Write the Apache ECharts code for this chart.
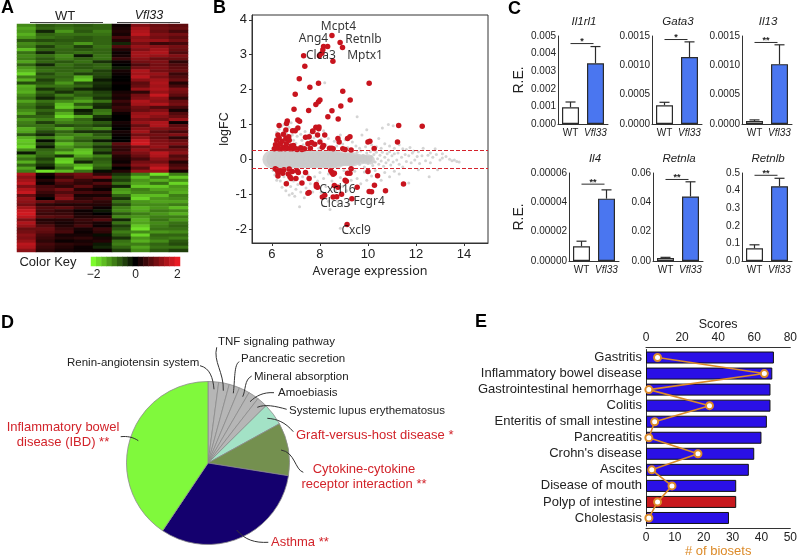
<!DOCTYPE html>
<html>
<head>
<meta charset="utf-8">
<title>Vfl33 figure</title>
<script src="https://cdn.jsdelivr.net/npm/echarts@6/dist/echarts.min.js"></script>
<style>
  html, body { margin: 0; padding: 0; background: #fff; }
  #chart { width: 800px; height: 559px; }
</style>
</head>
<body>
<div id="chart"></div>
<script>
// Panel A: heat map, one row per gene, 5 WT columns then 4 Vfl33 columns
const heatRows = [
  [-1.1,-.7,-.8,-.7,-.8,.1,1.1,.9,.8],
  [-1.3,-.8,-.9,-.8,-.8,.2,1.4,1.0,.9],
  [-1.2,-.3,-1.2,-.7,-1.0,.3,1.5,.9,.6],
  [-1.4,-.8,-.9,-.9,-.9,.2,1.6,1.1,1.0],
  [-1.2,-.9,-.8,-.7,-.8,.6,1.2,1.0,.8],
  [-.7,-.6,-.7,-.7,-.8,.3,1.3,1.3,1.0],
  [-1.1,-.9,-.8,-1.2,-.8,-.3,1.0,.5,.6],
  [-1.0,-.5,-.9,-.5,-.9,.7,1.3,1.2,1.0],
  [-1.5,-.8,-.8,-.7,-.8,.3,1.1,1.4,.9],
  [-.9,-.3,-.8,-.9,-.8,.1,1.4,1.5,.7],
  [-1.1,-.9,-1.1,-.2,-.9,.2,1.4,1.3,1.1],
  [-1.0,-.7,-1.0,-.8,-.9,.5,1.2,.9,.9],
  [-1.3,-.8,-.7,-.9,-.4,.1,1.0,1.1,.4],
  [-.8,-.3,-.9,-.7,-.8,.0,.7,1.0,.7],
  [-1.2,-.8,-.8,-.7,-.8,-.2,1.0,1.1,.8],
  [-1.4,-.9,-.8,-.9,-.5,.2,1.5,1.0,.9],
  [-1.7,-.6,-.9,-.5,-.6,.1,1.4,1.3,.5],
  [-1.0,-.8,-.8,-1.4,-.5,.0,1.6,1.1,.7],
  [-1.4,-.5,-.9,-1.6,-.2,.0,1.2,1.4,.9],
  [-.6,-.7,-1.2,-.6,-.4,.1,.8,1.5,.3],
  [-1.4,-.9,-.9,-.8,-.3,.0,.9,1.4,.6],
  [-1.3,-.4,-.7,-.3,-.2,.0,1.3,1.5,1.1],
  [-1.4,-.8,-.4,-.8,-.5,.2,.4,1.3,1.0],
  [-1.1,-.6,-1.0,-.7,-.6,.3,1.0,1.7,.8],
  [-.9,-.3,-.7,-1.0,-.4,.2,1.1,1.3,.4],
  [-1.3,-.9,-1.1,-1.3,-.9,.5,1.5,1.2,.9],
  [-1.0,-.7,-1.5,-.7,-.4,.3,1.4,1.5,1.0],
  [-.9,-.5,-1.6,-1.2,-.3,.5,1.0,.7,.6],
  [-1.1,-.8,-1.0,-.2,-.9,.4,.9,1.1,.2],
  [-1.3,-.6,-1.4,-.4,-1.0,.1,1.3,1.4,.7],
  [-.8,-.8,-1.7,-1.3,-.4,.0,1.4,1.2,.9],
  [-1.2,-1.0,-1.2,-.8,-.2,.0,1.1,1.0,1.3],
  [-1.0,-.5,-1.0,-.9,-.7,.2,1.3,1.5,.1],
  [-.9,-.9,-.6,-.7,-.5,.1,.9,1.5,.8],
  [-1.4,-.9,-1.3,-.9,-1.1,.0,1.2,1.1,1.0],
  [-1.3,-.6,-.8,-.4,-.4,.2,1.4,.8,.6],
  [-.7,-.3,-1.0,-1.1,-.7,.1,1.0,1.0,1.1],
  [-1.4,-1.0,-1.3,-.9,-.9,.0,1.3,.9,.4],
  [-1.6,-.1,-1.0,-.7,-.2,.0,1.7,1.1,.9],
  [-1.5,-.6,-1.5,-1.1,-.8,.8,1.8,1.2,1.1],
  [-1.7,-.2,-1.2,-.9,-.4,.5,1.0,1.3,.6],
  [-1.1,-.8,-1.0,-1.5,-.7,.4,1.3,1.0,1.0],
  [-.2,-.9,-1.5,-1.6,-.3,.6,1.1,1.6,1.2],
  [-1.2,-.8,-.4,-1.3,-1.0,.3,.9,1.5,.7],
  [-.9,-.5,-1.6,-.9,-.7,.2,.6,1.2,.9],
  [-1.4,-.7,-1.7,-.3,-.8,.1,1.0,1.0,.3],
  [-.8,-.4,-1.2,-1.4,-.9,.4,1.2,1.4,.6],
  [-1.3,-.1,-.9,-1.7,-.7,.0,.8,1.7,.8],
  [-1.0,-1.8,-1.5,-.9,-.1,.3,1.3,1.3,.2],
  [1.5,.2,.8,1.0,.4,-.4,-1.0,-1.8,-1.0],
  [1.2,.0,.5,.9,1.1,-.7,-1.5,-1.0,-1.6],
  [1.4,.3,.9,.5,.2,-.5,-1.2,-1.4,-1.1],
  [1.6,.1,.6,.4,.7,-.9,-1.3,-.9,-1.7],
  [1.1,.6,.4,.8,.3,-.3,-1.6,-1.6,-1.2],
  [1.5,.7,1.0,.3,.1,-1.2,-1.0,-1.3,-1.3],
  [1.7,.5,.7,.6,.5,-1.3,-1.1,-1.1,-1.4],
  [.9,.3,1.0,.2,.2,-.8,-1.5,-1.5,-1.0],
  [1.3,.0,1.2,.4,.6,-.4,-1.7,-1.2,-1.1],
  [1.2,.9,.6,.6,.4,-.9,-1.2,-1.3,-1.3],
  [1.0,.4,.3,.3,.3,-.6,-1.1,-1.1,-1.0],
  [1.4,.7,.8,.5,.1,-1.0,-1.4,-1.2,-1.5],
  [1.7,.6,.4,.1,-.2,-1.1,-1.3,-1.0,-1.1],
  [1.8,.5,.5,.2,.0,-.7,-1.0,-1.2,-1.4],
  [1.6,.8,.7,.3,.3,-1.1,-1.2,-1.0,-1.0],
  [1.1,.3,.3,.5,.7,-.3,-1.4,-.9,-1.2],
  [1.5,.4,.2,.4,.2,-.9,-1.3,-1.1,-.9],
  [1.3,.7,.3,.6,.1,-.5,-1.6,-1.0,-.8],
  [.9,.9,.5,.2,.5,-.7,-1.8,-.9,-.9],
  [1.0,.8,.6,.1,.4,-1.0,-1.1,-1.2,-1.1],
  [1.2,.6,.2,.2,-.1,-.8,-1.7,-.8,-.8],
  [1.1,.5,.3,.4,.2,-.4,-1.2,-.9,-1.0],
  [1.3,.4,.1,.2,.3,-.9,-1.4,-1.1,-.7],
  [1.6,.6,.4,.3,-.2,-1.0,-1.0,-.8,-.6],
  [1.5,.5,.3,.1,-.3,-.8,-1.3,-.9,-.9],
  [1.2,.4,.2,.1,.1,-.5,-1.1,-.7,-.5]
];
const heatColumns = ['WT1', 'WT2', 'WT3', 'WT4', 'WT5', 'Vfl1', 'Vfl2', 'Vfl3', 'Vfl4'];
const colorKeySteps = [-2, -1.75, -1.5, -1.25, -1, -0.75, -0.5, -0.25, 0, 0.25, 0.5, 0.75, 1, 1.25, 1.5, 1.75, 2];

// Panel B: MA plot
const grayBandWide = [[5.98,0],[6.15,0],[6.3,0],[6.5,0],[6.7,0],[6.9,0],[7.1,0],[7.3,0],[7.5,0],[7.7,0],[7.9,0],[8.1,0],[8.3,0],[8.5,0],[8.7,0]];
const grayBandMid = [[8.8,0],[8.95,0],[9.1,0],[9.25,0],[9.4,0]];
const grayBandThin = [[9.5,0],[9.6,0.03],[9.7,-0.02],[9.8,0.02],[9.9,-0.01],[10.0,0.02],[10.1,-0.02]];
const grayPoints = [
  [6.05,.32],[6.1,.45],[6.15,.6],[6.2,.78],[6.25,.48],[6.3,.86],[6.35,.62],[6.4,.95],[6.42,.38],[6.5,.82],[6.5,1.0],[6.55,.5],[6.62,.72],[6.7,.92],[6.75,.42],[6.8,1.05],[6.85,.7],[6.9,.55],[6.95,.88],[7.0,.46],[7.05,.66],[7.12,.35],[7.2,.72],[7.25,.55],[7.3,.42],[7.38,.8],[7.45,.32],[7.5,.58],[7.6,.74],[7.68,.38],[7.75,.62],[7.85,.45],[7.95,.32],[8.05,.58],[8.2,2.2],[8.15,.82],[8.25,.42],[8.35,.6],[8.45,.36],[8.6,.52],[8.7,.38],[8.85,.7],[8.95,.44],[9.05,.56],[9.15,.34],[9.35,.5],[9.5,.38],[9.55,1.22],[9.65,.32],[9.75,.7],[9.9,.36],[9.95,.85],[10.15,.42],[10.35,.36],[10.45,.6],[10.55,.32],[10.6,.9],[10.7,.45],[10.85,1.0],[10.9,.38],[11.05,.96],[11.1,.32],[11.3,.42],[11.45,.3],[11.6,.28],[11.75,.34],[11.9,.24],[12.1,.22],[12.3,.32],[12.6,.18],[12.8,.3],[13.1,.16],
  [9.55,.2],[9.65,-.15],[9.7,.24],[9.8,.12],[9.85,-.22],[9.95,.18],[10.0,-.12],[10.1,.22],[10.15,.08],[10.2,-.18],[10.25,.14],[10.3,-.08],[10.35,.2],[10.4,.02],[10.45,-.14],[10.5,.12],[10.55,-.05],[10.6,.2],[10.65,-.2],[10.7,.06],[10.75,-.1],[10.8,.16],[10.85,-.02],[10.9,.22],[10.95,-.16],[11.0,.1],[11.05,-.08],[11.1,.16],[11.2,-.02],[11.25,.18],[11.3,-.14],[11.4,.06],[11.45,-.22],[11.55,.14],[11.6,-.06],[11.7,.1],[11.8,-.1],[11.85,.18],[11.95,-.02],[12.05,.08],[12.15,-.12],[12.25,.1],[12.4,-.04],[12.5,.12],[12.6,-.1],[12.7,.06],[12.85,.14],[13.0,-.02],[13.1,.04],[13.25,.08],[13.4,.0],[13.5,-.04],[13.6,-.02],[13.7,-.06],[13.8,-.08],
  [6.05,-.32],[6.12,-.45],[6.2,-.6],[6.28,-.4],[6.35,-.62],[6.42,-.8],[6.5,-.5],[6.58,-.9],[6.65,-.64],[6.72,-1.02],[6.78,-.78],[6.85,-.98],[6.9,-.62],[6.95,-1.06],[7.0,-.86],[7.08,-.72],[7.15,-1.36],[7.2,-.94],[7.28,-.5],[7.35,-1.1],[7.42,-.82],[7.5,-.44],[7.6,-.7],[7.7,-.94],[7.78,-.5],[7.9,-.62],[8.0,-.38],[8.05,-.95],[8.15,-.55],[8.25,-.78],[8.35,-.42],[8.35,-1.2],[8.42,-1.44],[8.5,-.62],[8.65,-.9],[8.75,-1.22],[8.85,-.52],[8.95,-.78],[8.85,-1.98],[9.0,-.32],[9.12,-.9],[9.2,-1.3],[9.3,-.6],[9.45,-.34],[9.55,-.55],[9.7,-.7],[9.85,-.36],[9.95,-.6],[10.15,-.48],[10.3,-.32],[10.55,-.6],[10.7,-.38],[10.9,-.5],[11.1,-.34],[11.3,-.42],[11.7,-.68],[12.1,-.3],[12.55,-.5],[12.9,-.3]
];
const redPoints = [
  [8.5,3.55],[8.84,3.35],[8.15,3.24],[8.32,3.24],[8.12,3.14],[8.94,3.21],[8.08,3.04],[7.98,2.97],[7.32,2.97],[8.54,2.81],[7.37,2.67],[7.14,2.31],[7.94,2.18],[10.05,2.18],[7.58,2.07],[8.95,1.95],[6.97,1.87],[9.26,1.7],[8.0,1.7],[7.94,1.65],[7.83,1.57],[8.87,1.53],[6.92,1.44],[7.53,1.4],[8.5,1.39],[8.33,1.22],[8.76,1.16],[6.64,1.1],[6.61,1.03],[7.08,1.13],[7.15,1.09],[6.3,.97],[7.96,.93],[7.83,.92],[11.28,.97],[12.26,.95],[7.08,.9],[6.58,.84],[6.86,.82],[6.97,.82],[7.7,.81],
  [6.1,.3],[6.15,.42],[6.2,.55],[6.22,.35],[6.25,.7],[6.3,.3],[6.3,.62],[6.35,.45],[6.4,.3],[6.42,.52],[6.48,.72],[6.5,.35],[6.55,.3],[6.58,.6],[6.6,.45],[6.65,.32],[6.7,.65],[6.72,.55],[6.75,.3],[6.8,.38],[6.85,.3],[6.9,.4],[7.0,.3],[7.05,.28],[7.2,.33],[7.25,.28],[7.35,.3],[7.4,.63],[7.5,.45],[7.55,.65],[7.6,.32],[7.65,.48],[7.7,.8],[7.78,.43],[7.9,.7],[7.95,.88],[8.0,.5],[8.1,.35],[8.2,.7],[8.15,.4],[8.4,.32],[8.5,.32],[8.55,.3],[8.75,.6],[8.8,.5],[8.95,.3],[9.05,.28],[9.15,.6],[9.25,.65],[9.3,.27],[10.0,.5],[10.08,.52],[10.26,.31],[11.23,.5],
  [6.14,-.27],[6.2,-.3],[6.25,-.38],[6.25,-.48],[6.35,-.33],[6.45,-.4],[6.5,-.3],[6.6,-.7],[6.68,-.42],[6.72,-.28],[6.75,-.5],[6.8,-.55],[6.85,-.35],[7.0,-.55],[7.05,-.33],[7.1,-.38],[7.25,-.68],[7.4,-.38],[7.55,-.55],[7.55,-.95],[7.5,-.97],[7.85,-.72],[7.9,-.8],[7.85,-.78],[8.1,-1.08],[8.2,-1.03],[8.45,-.33],[8.5,-.38],[8.55,-.43],[8.6,-.4],[8.6,-.75],[8.55,-1.08],[8.7,-1.07],[8.75,-.8],[8.9,-1.0],[9.05,-.6],[9.1,-.63],[9.15,-.4],[9.25,-.4],[9.3,-.27],[9.33,-1.13],[9.55,-.8],[10.0,-.35],[10.05,-.92],[10.15,-.93],[10.4,-.47],[10.27,-.74],[10.73,-.9],[11.48,-.71],[9.13,-1.87]
];
const geneLabels = [
  ['Mcpt4', 8.77, 3.81], ['Ang4', 7.73, 3.45], ['Retnlb', 9.81, 3.43], ['Clca3', 8.04, 2.98], ['Mptx1', 9.88, 2.98],
  ['Cxcl16', 8.73, -0.86], ['Clca3', 8.64, -1.26], ['Fcgr4', 10.05, -1.22], ['Cxcl9', 9.51, -2.05]
];
const cutoffs = [0.27, -0.27];
const maXTicks = [6, 8, 10, 12, 14];
const maYTicks = [-2, -1, 0, 1, 2, 3, 4];

// Panel C: qPCR bars
const qpcrGenes = ['Il1rl1', 'Gata3', 'Il13', 'Il4', 'Retnla', 'Retnlb'];
const qpcrGroups = ['WT', 'Vfl33'];
const qpcrMeans = [[0.00095, 0.00345], [0.00032, 0.00114], [0.00005, 0.00102], [0.00001, 0.0000425], [0.002, 0.044], [0.072, 0.425]];
const qpcrErrTops = [[0.00125, 0.0044], [0.00037, 0.0014], [0.00007, 0.00135], [0.0000135, 0.0000485], [0.0025, 0.054], [0.092, 0.47]];
const qpcrSigY = [0.00457, 0.00144, 0.00139, 0.0000524, 0.0556, 0.487];
const qpcrStars = ['*', '*', '**', '**', '**', '**'];
const qpcrMax = [0.005, 0.0015, 0.0015, 0.00006, 0.06, 0.5];
const qpcrStep = [0.001, 0.0005, 0.0005, 0.00002, 0.02, 0.1];
const qpcrDigits = [3, 4, 4, 5, 2, 1];

// Panel D: enrichment pie, clockwise from 12 o'clock
const pieNames = ['Renin-angiotensin system', 'TNF signaling pathway', 'Pancreatic secretion', 'Mineral absorption', 'Amoebiasis', 'Systemic lupus erythematosus', 'Graft-versus-host disease *', 'Cytokine-cytokine\nreceptor interaction **', 'Asthma **', 'Inflammatory bowel\ndisease (IBD) **'];
const pieValues = [2.1, 2.1, 2.1, 2.1, 2.1, 2.1, 4.4, 10.5, 31.9, 40.6];
const pieColors = ['#b6b6b6', '#b6b6b6', '#b6b6b6', '#b6b6b6', '#b6b6b6', '#b6b6b6', '#a3e2c6', '#74904f', '#14006e', '#80f93c'];

// Panel E: disease enrichment
const diseases = ['Gastritis', 'Inflammatory bowel disease', 'Gastrointestinal hemorrhage', 'Colitis', 'Enteritis of small intestine', 'Pancreatitis', "Crohn's disease", 'Ascites', 'Disease of mouth', 'Polyp of intestine', 'Cholestasis'];
const diseaseScores = [70.9, 70, 69, 69, 67, 64, 60, 57, 50, 50, 46];
const diseaseBiosets = [4, 41, 1, 22, 3, 1, 18, 2, 9, 4, 1];

const FONT = '"Liberation Sans", Arial, sans-serif';
const INK = '#222';
const RED_TEXT = '#d2232a';
const ORANGE = '#dc8a28';

const chart = echarts.init(document.getElementById('chart'), null, { renderer: 'canvas' });

// --- grids, axes and series are pushed panel by panel
const grid = [], xAxis = [], yAxis = [], series = [], title = [];

// Panel A
grid.push({ left: 17, top: 24, width: 171, height: 228 });
xAxis.push({ type: 'category', gridIndex: 0, data: heatColumns, show: false });
yAxis.push({ type: 'category', gridIndex: 0, data: heatRows.map((r, i) => i), inverse: true, show: false });
series.push({
  type: 'heatmap', xAxisIndex: 0, yAxisIndex: 0,
  data: heatRows.flatMap((row, r) => row.map((v, c) => [c, r, v]))
});

grid.push({ left: 91, top: 257, width: 89, height: 9 });
xAxis.push({
  type: 'category', gridIndex: 1, data: colorKeySteps,
  axisLine: { show: false }, axisTick: { show: false },
  axisLabel: {
    fontFamily: FONT, fontSize: 12, color: INK, margin: 3, interval: 0,
    formatter: v => (Number(v) % 2 === 0 ? String(v).replace('-', '\u2212') : '')
  }
});
yAxis.push({ type: 'category', gridIndex: 1, data: ['key'], show: false });
series.push({
  type: 'heatmap', xAxisIndex: 1, yAxisIndex: 1,
  data: colorKeySteps.map((v, i) => [i, 0, v])
});

// Panel B
grid.push({ left: 252, top: 15, width: 236, height: 228, show: true, borderColor: '#333', borderWidth: 1 });
const maLabel = { fontFamily: FONT, fontSize: 13, color: INK };
xAxis.push({
  type: 'value', gridIndex: 2, min: 5.17, max: 15, splitLine: { show: false },
  name: 'Average expression', nameLocation: 'middle', nameGap: 22,
  nameTextStyle: { fontFamily: '"Noto Sans", sans-serif', fontSize: 12.5, color: INK },
  axisLine: { onZero: false, lineStyle: { color: '#333' } },
  axisTick: { length: 3, customValues: maXTicks, lineStyle: { color: '#333' } },
  axisLabel: Object.assign({ customValues: maXTicks, margin: 5 }, maLabel)
});
yAxis.push({
  type: 'value', gridIndex: 2, min: -2.4, max: 4.14, splitLine: { show: false },
  name: 'logFC', nameLocation: 'middle', nameGap: 14,
  nameTextStyle: { fontFamily: FONT, fontSize: 12.5, color: INK },
  axisLine: { onZero: false, lineStyle: { color: '#333' } },
  axisTick: { length: 3, customValues: maYTicks, lineStyle: { color: '#333' } },
  axisLabel: Object.assign({ customValues: maYTicks, margin: 5 }, maLabel)
});
const graySeries = (data, size) => ({
  type: 'scatter', xAxisIndex: 2, yAxisIndex: 2, data: data, symbolSize: size,
  itemStyle: { color: '#c9c9c9' }, silent: true
});
series.push(graySeries(grayPoints, 3));
series.push(graySeries(grayBandThin, 9));
series.push(graySeries(grayBandMid, 14));
series.push(graySeries(grayBandWide, 18));
series.push({
  type: 'scatter', xAxisIndex: 2, yAxisIndex: 2, data: redPoints, symbolSize: 5.5,
  itemStyle: { color: '#c8141e', opacity: 1 }, silent: true,
  markLine: {
    silent: true, symbol: 'none', animation: false, label: { show: false },
    lineStyle: { color: '#d4222c', type: [4, 2], width: 1 },
    data: cutoffs.map(c => ({ yAxis: c }))
  }
});
series.push({
  type: 'scatter', xAxisIndex: 2, yAxisIndex: 2, symbolSize: 0, silent: true, z: 5,
  data: geneLabels.map(g => ({ name: g[0], value: [g[1], g[2]] })),
  label: {
    show: true, position: 'inside', formatter: '{b}',
    fontFamily: '"Noto Sans", sans-serif', fontSize: 12, color: '#000'
  }
});

// Panel C
const qpcrLayout = [
  { left: 558, top: 36 }, { left: 652, top: 36 }, { left: 742, top: 36 },
  { left: 569, top: 173 }, { left: 653, top: 173 }, { left: 742, top: 173 }
];
qpcrGenes.forEach((gene, i) => {
  const g = grid.length;
  const pos = qpcrLayout[i];
  grid.push({ left: pos.left, top: pos.top, width: 50, height: 88 });
  xAxis.push({
    type: 'category', gridIndex: g, data: qpcrGroups,
    axisLine: { lineStyle: { color: '#333' } }, axisTick: { show: false },
    axisLabel: {
      margin: 4, interval: 0, fontFamily: FONT, fontSize: 10, color: INK,
      formatter: v => (v === 'Vfl33' ? '{i|Vfl33}' : v),
      rich: { i: { fontFamily: FONT, fontSize: 10, fontStyle: 'italic', color: INK } }
    }
  });
  yAxis.push({
    type: 'value', gridIndex: g, min: 0, max: qpcrMax[i], interval: qpcrStep[i],
    splitLine: { show: false },
    name: i % 3 === 0 ? 'R.E.' : '', nameLocation: 'middle', nameGap: i === 0 ? 32 : 43,
    nameTextStyle: { fontFamily: FONT, fontSize: 14, color: INK },
    axisLine: { show: true, lineStyle: { color: '#333' } },
    axisTick: { length: 3, lineStyle: { color: '#333' } },
    axisLabel: { margin: 2, fontFamily: FONT, fontSize: 10, color: INK, formatter: v => v.toFixed(qpcrDigits[i]) }
  });
  series.push({
    type: 'bar', xAxisIndex: g, yAxisIndex: g, barWidth: 17, silent: true,
    data: [
      { value: qpcrMeans[i][0], itemStyle: { color: '#fff', borderColor: '#2b2b2b', borderWidth: 1.2 } },
      { value: qpcrMeans[i][1], itemStyle: { color: '#4a76f0', borderColor: '#2b2b2b', borderWidth: 1.2 } }
    ]
  });
  series.push({
    type: 'custom', xAxisIndex: g, yAxisIndex: g, silent: true, z: 1,
    data: qpcrErrTops[i].map((top, c) => [c, top, qpcrMeans[i][c]]),
    renderItem: (params, api) => {
      const a = api.coord([api.value(0), api.value(1)]);
      const b = api.coord([api.value(0), api.value(2)]);
      const style = { stroke: '#2b2b2b', lineWidth: 1.2, fill: null };
      return {
        type: 'group', children: [
          { type: 'line', shape: { x1: a[0], y1: a[1], x2: b[0], y2: b[1] }, style: style },
          { type: 'line', shape: { x1: a[0] - 5, y1: a[1], x2: a[0] + 5, y2: a[1] }, style: style }
        ]
      };
    }
  });
  series.push({
    type: 'custom', xAxisIndex: g, yAxisIndex: g, silent: true,
    data: [[0, qpcrSigY[i]]],
    renderItem: (params, api) => {
      const a = api.coord([0, api.value(1)]);
      const b = api.coord([1, api.value(1)]);
      return {
        type: 'group', children: [
          { type: 'line', shape: { x1: a[0], y1: a[1], x2: b[0] - 2, y2: b[1] }, style: { stroke: '#2b2b2b', lineWidth: 1, fill: null } },
          { type: 'text', style: { x: (a[0] + b[0]) / 2 - 1, y: a[1] - 2, text: qpcrStars[i], textAlign: 'center', textVerticalAlign: 'middle', font: 'bold 9px ' + FONT, fill: INK } }
        ]
      };
    }
  });
  title.push({
    text: gene, left: pos.left + 26, top: pos.top - 20, padding: 0, textAlign: 'center',
    textStyle: { fontFamily: FONT, fontSize: 11.5, fontStyle: 'italic', fontWeight: 'normal', color: INK }
  });
});

// Panel E
const eGrid = grid.length;
grid.push({ left: 646, top: 349.5, width: 145.5, height: 181.5 });
const eTick = { length: 3, lineStyle: { color: '#333' } };
const eTopX = xAxis.length;
xAxis.push({
  type: 'value', gridIndex: eGrid, position: 'top', offset: 2.5, min: 0, max: 80, interval: 20,
  splitLine: { show: false }, axisLine: { show: true, lineStyle: { color: '#333' } }, axisTick: eTick,
  axisLabel: { fontFamily: FONT, fontSize: 12, color: INK, margin: 3 },
  name: 'Scores', nameLocation: 'middle', nameGap: 13,
  nameTextStyle: { fontFamily: FONT, fontSize: 12.5, color: INK }
});
const eBottomX = xAxis.length;
xAxis.push({
  type: 'value', gridIndex: eGrid, position: 'bottom', offset: 2, min: 0, max: 50, interval: 10,
  splitLine: { show: false }, axisLine: { show: true, lineStyle: { color: '#333' } }, axisTick: eTick,
  axisLabel: { fontFamily: FONT, fontSize: 12, color: INK, margin: 4 },
  name: '# of biosets', nameLocation: 'middle', nameGap: 17,
  nameTextStyle: { fontFamily: FONT, fontSize: 13, color: ORANGE }
});
yAxis.push({
  type: 'category', gridIndex: eGrid, data: diseases, inverse: true,
  axisLine: { lineStyle: { color: '#333' } }, axisTick: { length: 3, alignWithLabel: true, lineStyle: { color: '#333' } },
  axisLabel: { fontFamily: FONT, fontSize: 13, color: INK, margin: 4, interval: 0 }
});
series.push({
  type: 'bar', xAxisIndex: eTopX, yAxisIndex: eGrid, barWidth: 12, silent: true,
  itemStyle: { borderColor: '#111', borderWidth: 1 },
  data: diseaseScores.map((v, i) => ({ value: v, itemStyle: { color: diseases[i] === 'Polyp of intestine' ? '#c8191e' : '#2a10e6' } }))
});
series.push({
  type: 'line', xAxisIndex: eBottomX, yAxisIndex: eGrid, silent: true, z: 4,
  data: diseaseBiosets, symbol: 'circle', symbolSize: 7,
  lineStyle: { color: ORANGE, width: 1.6 },
  itemStyle: { color: '#fff', borderColor: ORANGE, borderWidth: 2 }
});

// Panel D
const pieLabelPos = [
  { x: 67, y: 363, align: 'left' }, { x: 218, y: 342, align: 'left' }, { x: 241, y: 359, align: 'left' },
  { x: 254, y: 377, align: 'left' }, { x: 278, y: 393, align: 'left' }, { x: 289, y: 411, align: 'left' },
  { x: 296, y: 435, align: 'left' }, { x: 364, y: 477, align: 'center' }, { x: 271, y: 542, align: 'left' },
  { x: 63, y: 435, align: 'center' }
];
series.push({
  type: 'pie', center: [208, 463], radius: [0, 81.5], startAngle: 90, clockwise: true, silent: true,
  itemStyle: { borderColor: '#8a8a8a', borderWidth: 0.8 },
  labelLine: { show: false },
  data: pieNames.map((name, i) => ({
    name: name, value: pieValues[i], itemStyle: { color: pieColors[i] },
    label: {
      show: true, formatter: '{b}', fontFamily: FONT, lineHeight: 15, width: 200, overflow: 'none',
      fontSize: i < 6 ? 11.5 : 13, color: i < 6 ? INK : RED_TEXT,
      align: pieLabelPos[i].align, verticalAlign: 'middle'
    }
  })),
  labelLayout: params => {
    const p = pieLabelPos[params.dataIndex];
    return { x: p.x, y: p.y, align: p.align, verticalAlign: 'middle', hideOverlap: false };
  }
});

// leader curves for the pie labels, page pixels
const pieLeaders = [
  [200, 365.7, 210, 368, 213, 378, 214, 389.3],
  [216.7, 347.3, 213, 362, 224, 372, 223.3, 390.7],
  [239.3, 361.7, 234, 364, 235, 380, 233.3, 393.3],
  [251.7, 376, 244, 380, 246, 390, 242.7, 396.7],
  [274, 392.7, 263, 392, 256, 396, 250, 401.7],
  [286.7, 409.3, 275, 406, 265, 404, 257.3, 407.3],
  [293.3, 431.7, 285, 422, 277, 419, 267.3, 418.3],
  [303.3, 472.3, 295, 470, 295, 452, 281, 450],
  [268.3, 542.3, 255, 543, 245, 540, 236.7, 530],
  [120.7, 436.7, 127, 436, 133, 437, 138.3, 440.7]
];
const graphic = pieLeaders.map(p => ({
  type: 'bezierCurve', z: 20, silent: true,
  shape: { x1: p[0], y1: p[1], cpx1: p[2], cpy1: p[3], cpx2: p[4], cpy2: p[5], x2: p[6], y2: p[7] },
  style: { stroke: '#333', lineWidth: 1, fill: null }
}));

const pageText = (text, x, y, font, fill, align) => ({
  type: 'text', x: x, y: y, z: 20, silent: true,
  style: { text: text, font: font, fill: fill || INK, textAlign: align || 'center', textVerticalAlign: 'middle' }
});
graphic.push(pageText('A', 1, 8, 'bold 18px ' + FONT, '#000', 'left'));
graphic.push(pageText('B', 213, 8, 'bold 18px ' + FONT, '#000', 'left'));
graphic.push(pageText('C', 508, 9, 'bold 18px ' + FONT, '#000', 'left'));
graphic.push(pageText('D', 1, 323, 'bold 18px ' + FONT, '#000', 'left'));
graphic.push(pageText('E', 475, 322, 'bold 18px ' + FONT, '#000', 'left'));
graphic.push(pageText('WT', 65, 16, '13px ' + FONT));
graphic.push(pageText('Vfl33', 149, 16, 'italic 12.5px ' + FONT));
graphic.push(pageText('Color Key', 48, 262, '13px ' + FONT));
graphic.push({ type: 'line', z: 20, silent: true, shape: { x1: 30, y1: 22.5, x2: 103, y2: 22.5 }, style: { stroke: '#444', lineWidth: 1 } });
graphic.push({ type: 'line', z: 20, silent: true, shape: { x1: 117, y1: 22.5, x2: 180, y2: 22.5 }, style: { stroke: '#444', lineWidth: 1 } });

chart.setOption({
  animation: false,
  backgroundColor: '#fff',
  textStyle: { fontFamily: FONT },
  title: title,
  grid: grid,
  xAxis: xAxis,
  yAxis: yAxis,
  visualMap: {
    show: false, type: 'continuous', min: -2, max: 2, dimension: 2, seriesIndex: [0, 1],
    inRange: { color: ['#7cfa2c', '#000000', '#e81c24'] }
  },
  series: series,
  graphic: graphic
});
</script>
</body>
</html>
